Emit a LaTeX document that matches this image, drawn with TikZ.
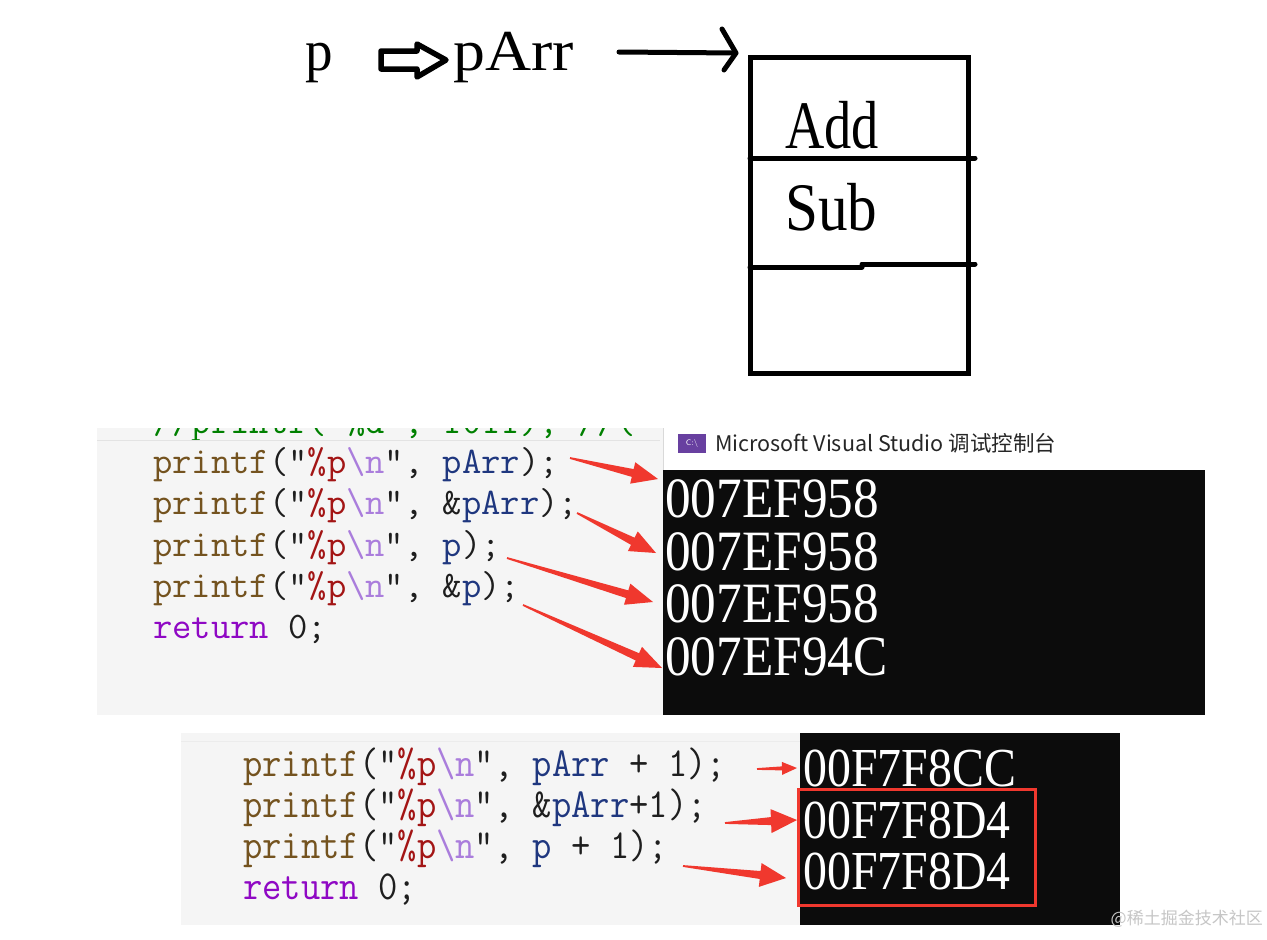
\documentclass[tikz,border=0pt]{standalone}
\usepackage{fontspec}
\setmainfont{Liberation Serif}
\newfontfamily\cjk{Noto Sans CJK SC}
\usetikzlibrary{calc}
\definecolor{arrowred}{RGB}{240,56,46}
\definecolor{codebg}{RGB}{245,245,245}
\definecolor{fnc}{RGB}{116,83,31}
\definecolor{strc}{RGB}{163,21,21}
\definecolor{escc}{RGB}{170,125,220}
\definecolor{varc}{RGB}{31,55,127}
\definecolor{kwc}{RGB}{143,8,196}
\definecolor{txc}{RGB}{30,30,30}
\definecolor{cmtc}{RGB}{0,128,0}
\definecolor{consbg}{RGB}{12,12,12}
\definecolor{vsicon}{RGB}{104,64,160}
\newcommand\pf[1]{\textcolor{fnc}{printf}("\textcolor{strc}{\%p}\textcolor{escc}{\textbackslash n}", #1}
\newcommand\tarrow[5]{%
  \coordinate (tS) at ($(#2)!#3!(#1)$);
  \fill[arrowred] ($(#1)!0.9pt!90:(#2)$) -- ($(tS)!#5!90:(#2)$) -- ($(tS)!#4!90:(#2)$) -- (#2)
    -- ($(tS)!#4!-90:(#2)$) -- ($(tS)!#5!-90:(#2)$) -- ($(#1)!0.9pt!-90:(#2)$) -- cycle;}
\tikzset{
  code/.style={anchor=base west, inner sep=0, font=\fontsize{37.5}{37.5}\selectfont\ttfamily, text=txc},
  codeb/.style={code, yscale=1.1},
  cons/.style={anchor=base west, inner sep=0, text=white, font=\fontsize{57}{57}\selectfont, xscale=0.9},
  consb/.style={anchor=base west, inner sep=0, text=white, font=\fontsize{55}{55}\selectfont, xscale=0.87},
  big/.style={anchor=base west, inner sep=0, text=black},
  thickline/.style={line width=5pt, line cap=round, line join=round}
}
\begin{document}
\begin{tikzpicture}[x=1pt,y=-1pt]
\useasboundingbox (0,0) rectangle (1267,940);
\fill[white] (0,0) rectangle (1267,940);

% ---------- top sketch ----------
\node[big, font=\fontsize{58}{58}\selectfont, xscale=0.95] (p) at (305,70) {p};
\draw[line width=5.5pt, line join=round, fill=white] (381,51) -- (417,51) -- (417,44) -- (446,60) -- (417,77) -- (417,69) -- (381,69) -- cycle;
\node[big, font=\fontsize{58}{58}\selectfont, xscale=1.1] (parr) at (453,70) {pArr};
\coordinate (ls) at (619,52);
\coordinate (le) at (736,53);
\draw[thickline] (ls) -- (le);
\draw[thickline] (722,29) -- (le) -- (724,70);
\draw[line width=5pt] (750,57) rectangle (968,373);
\draw[thickline] (750,158) -- (975,158);
\draw[thickline] (750,267) -- (862,267);
\draw[thickline] (862,264) -- (975,264);
\node[big, font=\fontsize{68}{68}\selectfont, xscale=0.8] (add) at (785,148) {Add};
\node[big, font=\fontsize{68}{68}\selectfont, xscale=0.87] (sub) at (785,230) {Sub};

% ---------- middle screenshot ----------
\fill[codebg] (97,428) rectangle (663,715);
\begin{scope}
\clip (97,428) rectangle (663,439);
\node[code, text=cmtc] (cm) at (153,433) {//printf("\%d", 1011);  //(};
\end{scope}
\draw[gray!22, line width=1pt] (97,440) -- (660,440);
\node[code] (m1) at (153,473) {\pf{\textcolor{varc}{pArr});}};
\node[code] (m2) at (153,514) {\pf{\&\textcolor{varc}{pArr});}};
\node[code] (m3) at (153,556) {\pf{\textcolor{varc}{p});}};
\node[code] (m4) at (153,597) {\pf{\&\textcolor{varc}{p});}};
\node[code] (m5) at (153,638) {\textcolor{kwc}{return} 0;};

\fill[white] (663,428) rectangle (1205,470);
\draw[gray!30, line width=1pt] (663,428) -- (663,715);
\node[fill=vsicon, minimum width=28pt, minimum height=19pt, inner sep=0, text=white,
      font=\fontsize{8}{8}\selectfont\sffamily] (icon) at (692,443) {C:\textbackslash};
\node[anchor=west, inner sep=0, text=black!85, font=\cjk\fontsize{21.5}{21.5}\selectfont] (title) at (715,443) {Microsoft Visual Studio 调试控制台};
\fill[consbg] (663,470) rectangle (1205,715);
\node[cons] (c1) at (665,517) {007EF958};
\node[cons] (c2) at (665,570) {007EF958};
\node[cons] (c3) at (665,622) {007EF958};
\node[cons] (c4) at (665,675) {007EF94C};

\coordinate (a1s) at (570,458); \coordinate (a1e) at (658,479);
\coordinate (a2s) at (577,513); \coordinate (a2e) at (656,553);
\coordinate (a3s) at (507,558); \coordinate (a3e) at (653,602);
\coordinate (a4s) at (523,605); \coordinate (a4e) at (662,668);
\tarrow{a1s}{a1e}{26pt}{11pt}{4pt}
\tarrow{a2s}{a2e}{26pt}{11pt}{4pt}
\tarrow{a3s}{a3e}{27pt}{11pt}{4pt}
\tarrow{a4s}{a4e}{27pt}{11pt}{4pt}

% ---------- bottom screenshot ----------
\fill[codebg] (181,733) rectangle (800,925);
\draw[gray!15, line width=1pt] (181,741) -- (800,741);
\node[codeb] (b1) at (243,776) {\pf{\textcolor{varc}{pArr} + 1);}};
\node[codeb] (b2) at (243,817) {\pf{\&\textcolor{varc}{pArr}+1);}};
\node[codeb] (b3) at (243,858) {\pf{\textcolor{varc}{p} + 1);}};
\node[codeb] (b4) at (243,899) {\textcolor{kwc}{return} 0;};

\fill[consbg] (800,733) rectangle (1120,925);
\node[consb] (d1) at (803,786) {00F7F8CC};
\node[consb] (d2) at (803,838) {00F7F8D4};
\node[consb] (d3) at (803,889) {00F7F8D4};
\draw[arrowred, line width=3pt] (798,789) rectangle (1035,905);

\coordinate (b1s) at (757,769); \coordinate (b1e) at (797,768);
\coordinate (b2s) at (725,823); \coordinate (b2e) at (797,820);
\coordinate (b3s) at (683,866); \coordinate (b3e) at (786,878);
\tarrow{b1s}{b1e}{15pt}{6.5pt}{2pt}
\tarrow{b2s}{b2e}{26pt}{12pt}{4pt}
\tarrow{b3s}{b3e}{26pt}{12pt}{4pt}

\node[anchor=east, inner sep=0, text=gray!45, font=\cjk\fontsize{17}{17}\selectfont] (wm) at (1263,919) {@稀土掘金技术社区};
\end{tikzpicture}
\end{document}
